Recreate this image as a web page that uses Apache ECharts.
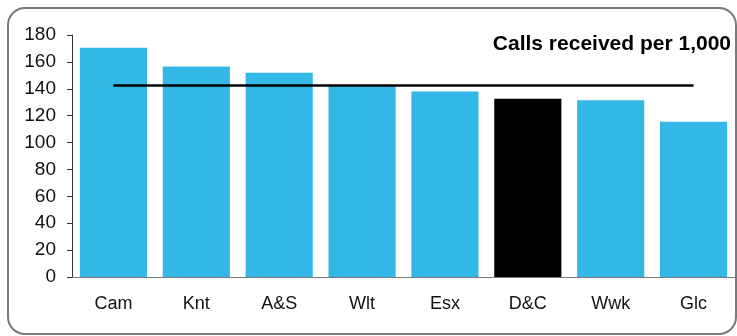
<!DOCTYPE html>
<html>
<head>
<meta charset="utf-8">
<script src="https://cdn.jsdelivr.net/npm/echarts@6/dist/echarts.min.js"></script>
<style>
html,body{margin:0;padding:0;background:#fff;}
#chart{width:737px;height:336px;}
</style>
</head>
<body>
<div id="chart"></div>
<script>
const categories = ["Cam", "Knt", "A&S", "Wlt", "Esx", "D&C", "Wwk", "Glc"];
const callsValues = [170.5, 156.5, 152, 142, 138, 132.5, 131.5, 115.5];
const averageValues = [142.5, 142.5, 142.5, 142.5, 142.5, 142.5, 142.5, 142.5];
const highlightCategory = "D&C";
const yTicks = [0, 20, 40, 60, 80, 100, 120, 140, 160, 180];
const titleText = "Calls received per 1,000";

const FONT = '"Liberation Sans", Arial, sans-serif';
const chart = echarts.init(document.getElementById('chart'), null, {renderer: 'canvas'});

chart.setOption({
  animation: false,
  backgroundColor: '#fff',
  title: {
    text: titleText,
    right: 6,
    top: 34,
    padding: 0,
    textStyle: {fontFamily: FONT, fontSize: 21, fontWeight: 'bold', color: '#000'}
  },
  grid: {left: 72, right: 2, top: 35, bottom: 59, containLabel: false},
  xAxis: {
    type: 'category',
    data: categories,
    axisLine: {show: true, lineStyle: {color: '#7a7a7a', width: 1}},
    axisTick: {show: false},
    axisLabel: {fontFamily: FONT, fontSize: 18, color: '#111', margin: 18, interval: 0}
  },
  yAxis: {
    type: 'value',
    min: yTicks[0],
    max: yTicks[yTicks.length - 1],
    interval: 20,
    splitLine: {show: false},
    axisLine: {show: true, lineStyle: {color: '#333', width: 1}},
    axisTick: {show: true, length: 5, lineStyle: {color: '#333'}},
    axisLabel: {fontFamily: FONT, fontSize: 19, color: '#111', margin: 16}
  },
  series: [
    {
      type: 'bar',
      data: callsValues.map((v, i) => ({
        value: v,
        itemStyle: {color: categories[i] === highlightCategory ? '#000000' : '#33B7E7'}
      })),
      barCategoryGap: '19%',
      z: 1
    },
    {
      type: 'line',
      data: averageValues,
      showSymbol: false,
      symbol: 'none',
      lineStyle: {color: '#000', width: 2.5},
      z: 3
    }
  ],
  graphic: [{
    type: 'rect',
    shape: {x: 8, y: 8, width: 728, height: 326, r: 17},
    style: {fill: 'none', stroke: '#7a7a7a', lineWidth: 2},
    z: 100,
    silent: true
  }]
});
</script>
</body>
</html>
